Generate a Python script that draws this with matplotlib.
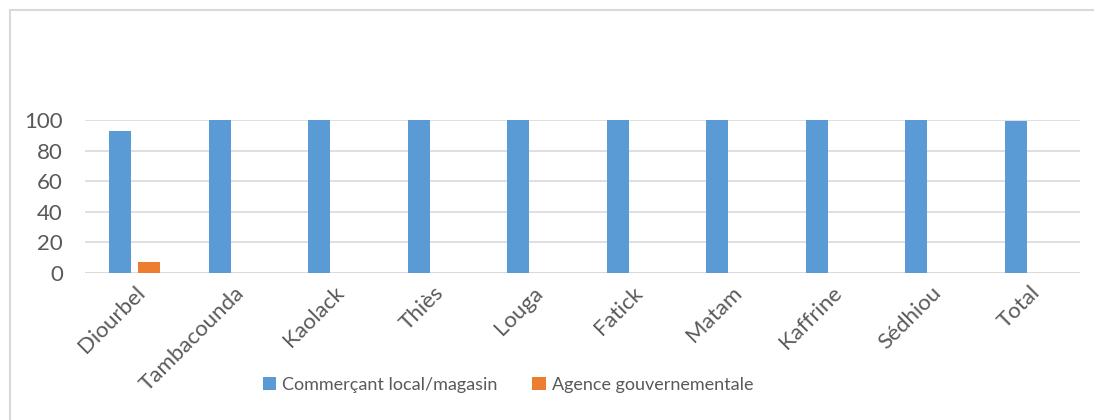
import matplotlib.pyplot as plt
import numpy as np
from matplotlib.lines import Line2D

# data
regions = ['Diourbel', 'Tambacounda', 'Kaolack', 'Thiès', 'Louga',
           'Fatick', 'Matam', 'Kaffrine', 'Sédhiou', 'Total']
commercant = [92.8, 100, 100, 100, 100, 100, 100, 100, 100, 99.3]
agence = [7.2, 0, 0, 0, 0, 0, 0, 0, 0, 0]
yticks = [0, 20, 40, 60, 80, 100]

plt.rcParams['font.family'] = ['Lato', 'DejaVu Sans']
txt = '#595959'

fig = plt.figure(figsize=(10.94, 4.2), dpi=100)
ax = fig.add_axes([85/1094, 147/420, 995/1094, 153/420])

x = np.arange(len(regions))
w = 0.22
ax.bar(x - 0.145, commercant, w, color='#5b9bd5', label='Commerçant local/magasin', zorder=3)
ax.bar(x + 0.145, agence, w, color='#ed7d31', label='Agence gouvernementale', zorder=3)

ax.set_xlim(-0.5, len(regions) - 0.5)
ax.set_ylim(0, 100)
ax.set_yticks(yticks)
ax.yaxis.grid(True, color='#d9d9d9', linewidth=1.2, zorder=0)
ax.axhline(0, color='#d9d9d9', linewidth=1.2, zorder=1)
for s in ax.spines.values():
    s.set_visible(False)
ax.tick_params(length=0, colors=txt, labelsize=16)
ax.tick_params(axis='y', pad=16)
ax.set_xticks(x)
ax.set_xticklabels(regions, rotation=45, ha='right', rotation_mode='anchor')
ax.tick_params(axis='x', pad=7)

fig.legend(loc='center', bbox_to_anchor=(508/1094, 1 - 385/420), ncol=2,
           frameon=False, fontsize=13, labelcolor=txt, handlelength=0.75,
           handleheight=0.75, handletextpad=0.35, columnspacing=1.9)

# light frame around the chart area (only left/top visible)
fig.add_artist(Line2D([10/1094, 10/1094], [0, 1 - 10/420], color='#d9d9d9', lw=1.5))
fig.add_artist(Line2D([10/1094, 1], [1 - 10/420, 1 - 10/420], color='#d9d9d9', lw=1.5))

fig.savefig('out.png', dpi=100)
